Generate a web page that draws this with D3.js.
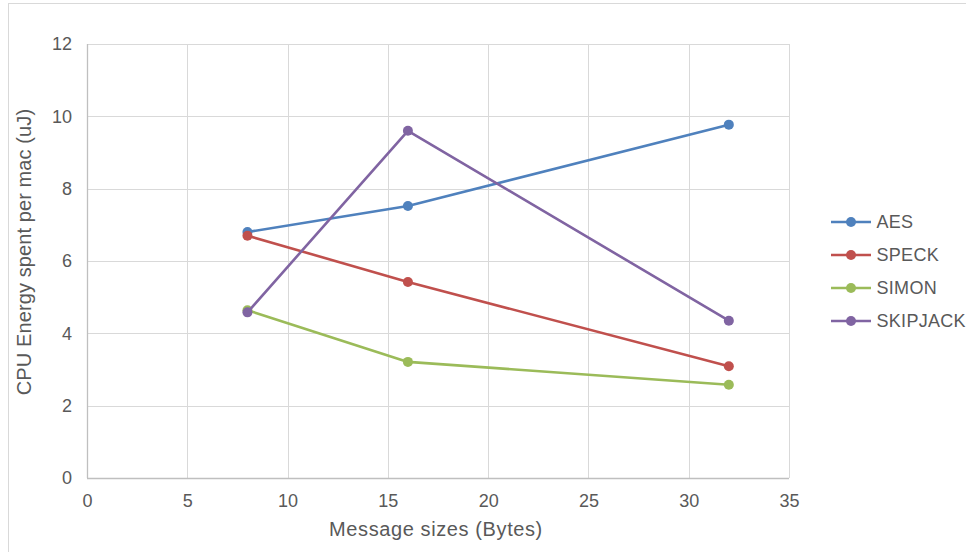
<!DOCTYPE html>
<html><head><meta charset="utf-8">
<script src="https://cdn.jsdelivr.net/npm/d3@7"></script>
<style>
body{margin:0;background:#fff;}
text{font-family:"Liberation Sans",Arial,sans-serif;fill:#595959;}
</style></head>
<body><svg id="c" width="966" height="552"></svg>
<script>
const xValues = [8, 16, 32];
const seriesNames = ["AES", "SPECK", "SIMON", "SKIPJACK"];
const aes = [6.80, 7.52, 9.77];
const speck = [6.70, 5.42, 3.09];
const simon = [4.64, 3.21, 2.58];
const skipjack = [4.58, 9.60, 4.35];
const colors = ["#4F81BD", "#C0504D", "#9BBB59", "#8064A2"];
const xTicks = [0, 5, 10, 15, 20, 25, 30, 35];
const yTicks = [0, 2, 4, 6, 8, 10, 12];
const xTitle = "Message sizes (Bytes)";
const yTitle = "CPU Energy spent per mac (uJ)";

const series = [aes, speck, simon, skipjack].map((v, i) => ({name: seriesNames[i], color: colors[i], values: v}));

const svg = d3.select("#c");
svg.append("rect").attr("x", 8.5).attr("y", 3.5).attr("width", 970).attr("height", 560)
  .attr("fill", "#fff").attr("stroke", "#d9d9d9");

const L = 87, R = 789, T = 44, B = 478;
const x = d3.scaleLinear().domain([0, 35]).range([L, R]);
const y = d3.scaleLinear().domain([0, 12]).range([B, T]);

const g = svg.append("g");
// gridlines
g.selectAll(".vg").data(xTicks).join("line")
  .attr("x1", d => Math.round(x(d)) + 0.5).attr("x2", d => Math.round(x(d)) + 0.5)
  .attr("y1", T).attr("y2", B).attr("stroke", "#d9d9d9").attr("stroke-width", 1);
g.selectAll(".hg").data(yTicks).join("line")
  .attr("y1", d => Math.round(y(d)) + 0.5).attr("y2", d => Math.round(y(d)) + 0.5)
  .attr("x1", L).attr("x2", R).attr("stroke", "#d9d9d9").attr("stroke-width", 1);
// axis lines
g.append("line").attr("x1", L).attr("x2", R).attr("y1", Math.round(y(0)) + 0.5).attr("y2", Math.round(y(0)) + 0.5)
  .attr("stroke", "#bfbfbf").attr("stroke-width", 1.3);
g.append("line").attr("x1", Math.round(x(0)) + 0.5).attr("x2", Math.round(x(0)) + 0.5).attr("y1", T).attr("y2", B)
  .attr("stroke", "#bfbfbf").attr("stroke-width", 1.3);

// tick labels via axes (domain and ticks hidden)
const xAxis = d3.axisBottom(x).tickValues(xTicks).tickSize(0).tickPadding(16);
const xa = svg.append("g").attr("transform", `translate(0,${B})`).call(xAxis);
const yAxis = d3.axisLeft(y).tickValues(yTicks).tickSize(0).tickPadding(15);
const ya = svg.append("g").attr("transform", `translate(${L},0)`).call(yAxis);
[xa, ya].forEach(a => {
  a.select(".domain").remove();
  a.selectAll("text").attr("font-family", "Liberation Sans, Arial, sans-serif")
    .attr("font-size", 18).attr("fill", "#595959");
});

// titles
svg.append("text").attr("x", 436).attr("y", 536).attr("text-anchor", "middle")
  .attr("font-size", 20).attr("letter-spacing", 0.6).text(xTitle);
svg.append("text").attr("transform", `translate(31,252) rotate(-90)`).attr("text-anchor", "middle")
  .attr("font-size", 20).attr("letter-spacing", 0.1).text(yTitle);

// lines
const line = d3.line().x((d, i) => x(xValues[i])).y(d => y(d));
series.forEach(s => {
  g.append("path").attr("d", line(s.values)).attr("fill", "none").attr("stroke", s.color)
    .attr("stroke-width", 2.6).attr("stroke-linejoin", "round");
  g.selectAll(null).data(s.values).join("circle")
    .attr("cx", (d, i) => x(xValues[i])).attr("cy", d => y(d)).attr("r", 5).attr("fill", s.color);
});

// legend
const leg = svg.append("g").attr("transform", "translate(831,222)");
series.forEach((s, i) => {
  const row = leg.append("g").attr("transform", `translate(0,${i * 33})`);
  row.append("line").attr("x1", 0).attr("x2", 40).attr("y1", 0).attr("y2", 0)
    .attr("stroke", s.color).attr("stroke-width", 2.6);
  row.append("circle").attr("cx", 20).attr("cy", 0).attr("r", 5).attr("fill", s.color);
  row.append("text").attr("x", 45.5).attr("y", 0).attr("dy", "0.36em").attr("font-size", 18)
    .attr("letter-spacing", 0.3).text(s.name);
});
</script></body></html>
